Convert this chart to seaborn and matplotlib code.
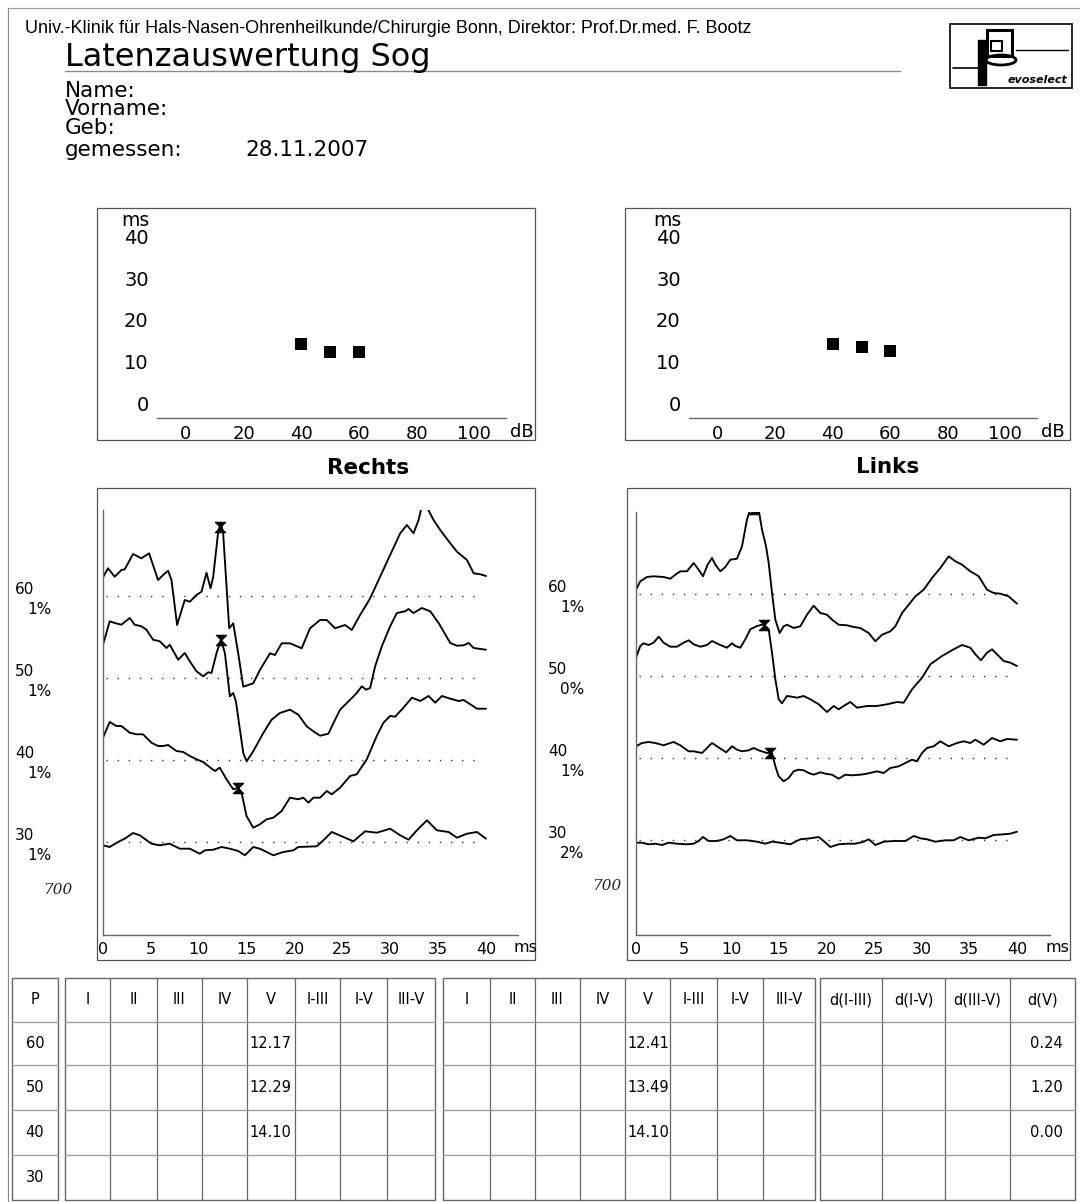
import numpy as np
import matplotlib
matplotlib.use("Agg")
import matplotlib.pyplot as plt
import seaborn as sns
from matplotlib.path import Path
from matplotlib.patches import Rectangle, Ellipse
from matplotlib import font_manager

# ---------------- data ----------------
header_text = "Univ.-Klinik für Hals-Nasen-Ohrenheilkunde/Chirurgie Bonn, Direktor: Prof.Dr.med. F. Bootz"
title_text = "Latenzauswertung Sog"
field_labels = ["Name:", "Vorname:", "Geb:", "gemessen:"]
measured_date = "28.11.2007"
side_titles = ["Rechts", "Links"]

levels = [60, 50, 40, 30]                 # stimulus levels (dB) of the four traces
levels_db = [60, 50, 40]                  # levels with a detected wave V
lat_v_rechts = [12.17, 12.29, 14.10]      # wave V latency, right ear (ms)
lat_v_links = [12.41, 13.49, 14.10]       # wave V latency, left ear (ms)
d_v = [0.24, 1.20, 0.00]                  # latency difference V
artifacts_rechts = ["1%", "1%", "1%", "1%"]
artifacts_links = ["1%", "0%", "1%", "2%"]
handwritten = "700"

db_ticks = [0, 20, 40, 60, 80, 100]
ms_ticks = [0, 10, 20, 30, 40]
wave_ticks = [0, 5, 10, 15, 20, 25, 30, 35, 40]

table_first_col = "P"
table_side_cols = ["I", "II", "III", "IV", "V", "I-III", "I-V", "III-V"]
table_diff_cols = ["d(I-III)", "d(I-V)", "d(III-V)", "d(V)"]

# --- waveforms, right ear (Rechts): time (ms) / amplitude (display units) ---
r60_t = [0.0, 0.52, 1.22, 1.92, 2.27, 3.14, 4.01, 4.81, 5.75, 6.28, 6.80, 7.15, 7.74, 8.54, 9.07, 9.76,
         10.29, 10.81, 11.23, 11.51, 12.03, 12.31, 12.55, 13.18, 13.60, 14.12, 14.65, 15.69, 16.39, 17.44,
         17.96, 18.66, 19.53, 20.75, 21.62, 22.67, 23.37, 24.24, 25.28, 25.98, 26.85, 27.90, 28.94, 29.99,
         31.04, 31.74, 32.43, 32.96, 33.23, 33.60, 33.93, 34.52, 35.22, 36.27, 36.97, 38.01, 38.71, 39.41, 40.0]
r60_a = [18.7, 27.7, 19.3, 26.0, 26.7, 42.0, 37.7, 42.7, 16.0, 21.0, 25.3, 16.0, -29.0, -4.0, -5.7, 1.0,
         4.3, 23.3, 7.7, 19.3, 64.3, 73.3, 62.7, -32.3, -27.3, -57.3, -90.7, -87.3, -74.0, -57.3,
         -59.0, -47.3, -47.3, -52.3, -32.3, -24.0, -24.0, -32.3, -29.0, -34.0, -19.0, -2.3, 19.3, 41.0,
         62.7, 71.0, 62.7, 76.0, 87.0, 98.0, 87.0, 76.0, 66.0, 52.7, 44.3, 36.0, 22.7, 21.7, 20.0]
r50_t = [0.0, 0.70, 1.22, 1.92, 2.79, 3.31, 4.01, 4.53, 5.23, 5.93, 6.63, 6.97, 7.85, 8.54, 9.07, 9.76,
         10.46, 10.99, 11.33, 11.86, 12.31, 12.73, 13.25, 13.60, 13.88, 14.30, 14.65, 15.00, 15.69, 16.74,
         17.61, 18.48, 19.53, 20.40, 21.27, 21.97, 22.67, 23.54, 24.24, 24.76, 25.81, 26.50, 27.03, 27.48,
         27.90, 28.42, 29.12, 29.99, 30.69, 31.56, 31.91, 32.43, 33.30, 34.18, 35.05, 36.27, 36.97, 37.66,
         38.19, 38.71, 40.0]
r50_a = [33.3, 56.7, 55.0, 53.3, 60.0, 53.3, 51.7, 48.3, 38.3, 36.7, 30.0, 33.3, 18.3, 25.0, 16.7, 6.7,
         1.7, 5.7, 5.0, 25.0, 38.3, 25.0, -18.3, -15.0, -23.3, -51.7, -75.0, -83.3, -73.3, -55.0,
         -41.7, -35.0, -31.7, -36.7, -48.3, -53.3, -57.7, -55.7, -41.7, -31.7, -21.7, -15.0, -8.3, -11.7,
         -10.0, 11.7, 31.7, 51.7, 65.0, 66.7, 69.0, 65.0, 70.0, 66.7, 55.0, 35.0, 32.3, 32.7,
         35.0, 30.0, 28.3]
r40_t = [0.0, 0.70, 1.40, 1.92, 2.79, 3.49, 4.18, 5.06, 5.75, 6.28, 6.80, 7.67, 8.37, 9.07, 9.76, 10.46,
         10.99, 11.68, 12.20, 12.90, 13.60, 14.12, 14.47, 14.99, 15.69, 16.39, 17.09, 17.79, 18.66, 19.53,
         20.40, 20.92, 21.45, 21.97, 22.67, 23.37, 23.89, 24.76, 25.81, 26.50, 27.55, 28.59, 29.29, 29.99,
         30.51, 31.38, 32.26, 33.13, 34.00, 34.70, 35.40, 36.27, 37.14, 37.66, 38.36, 39.06, 40.0]
r40_a = [22.3, 38.0, 34.0, 34.0, 27.3, 25.7, 25.7, 17.3, 14.0, 14.0, 15.0, 9.0, 8.0, 4.0, 0.7, -2.0,
         -6.0, -11.0, -7.7, -19.3, -29.3, -27.7, -32.7, -56.0, -67.7, -64.3, -59.3, -57.7, -51.0, -37.7,
         -39.3, -37.7, -42.7, -37.7, -37.7, -31.0, -34.3, -27.7, -16.0, -14.3, 0.7, 24.0, 37.3, 44.0,
         43.3, 52.3, 62.3, 59.0, 64.0, 57.3, 64.0, 61.3, 59.0, 60.0, 55.7, 51.3, 51.3]
r30_t = [0.0, 0.70, 1.57, 2.27, 3.14, 3.84, 5.06, 5.93, 6.97, 8.02, 9.07, 10.11, 10.64, 11.51, 12.38, 13.25,
         14.12, 14.82, 15.69, 16.39, 17.79, 18.83, 19.88, 20.40, 22.32, 23.02, 23.89, 25.11, 26.15, 27.38,
         28.59, 29.99, 31.04, 31.91, 32.78, 33.83, 34.87, 36.09, 36.97, 38.01, 39.06, 40.0]
r30_a = [-3.3, -5.0, 0.0, 3.3, 9.0, 6.7, -1.7, -3.3, -1.7, -6.7, -6.7, -11.7, -8.3, -7.7, -5.0, -6.7,
         -9.0, -13.3, -5.0, -6.7, -13.3, -10.0, -8.3, -5.0, -4.3, 1.7, 10.0, 5.0, 0.7, 10.7,
         9.3, 13.3, 6.7, 2.3, 11.7, 21.7, 11.7, 10.0, 4.3, 8.3, 10.0, 3.3]

# --- waveforms, left ear (Links) ---
l60_t = [0.0, 0.45, 1.15, 1.85, 2.90, 3.60, 4.13, 4.65, 5.35, 6.05, 6.58, 7.03, 7.52, 7.98, 8.33, 8.85,
         9.38, 9.90, 10.60, 11.13, 11.65, 12.00, 12.53, 12.88, 13.23, 13.65, 13.93, 14.28, 14.63, 15.08,
         15.50, 15.85, 16.55, 17.25, 17.95, 18.65, 19.35, 20.05, 20.58, 21.28, 22.15, 22.85, 23.55, 24.43,
         25.13, 25.83, 26.70, 27.23, 27.93, 28.63, 29.33, 30.20, 31.08, 31.95, 32.83, 33.53, 34.23, 35.10,
         35.98, 36.85, 37.55, 38.25, 39.12, 40.0]
l60_a = [4.3, 12.7, 17.0, 17.7, 17.0, 15.3, 19.3, 22.7, 22.7, 31.0, 24.3, 17.7, 29.3, 36.0, 29.3, 22.7,
         27.0, 34.3, 35.3, 47.7, 74.3, 85.0, 85.0, 84.0, 64.3, 47.7, 31.0, 1.0, -25.7, -39.0,
         -32.3, -30.7, -34.0, -32.3, -20.7, -11.7, -19.0, -20.7, -25.7, -30.7, -31.3, -33.0, -34.0, -39.0,
         -47.3, -40.7, -37.3, -32.3, -19.0, -10.7, -2.3, 4.3, 16.0, 26.0, 37.7, 32.7, 29.3, 22.7,
         17.7, 4.3, 1.0, 0.3, -2.3, -9.7]
l50_t = [0.0, 0.45, 0.80, 1.33, 1.85, 2.38, 2.90, 3.60, 4.30, 5.00, 5.53, 6.05, 6.75, 7.45, 7.98, 8.85,
         9.55, 10.08, 10.43, 10.95, 11.48, 12.00, 12.71, 13.40, 13.93, 14.28, 14.63, 14.98, 15.33, 15.85,
         16.38, 16.90, 17.60, 18.30, 19.18, 20.05, 20.75, 21.28, 21.80, 22.50, 23.20, 24.25, 25.30, 26.35,
         27.40, 28.10, 28.98, 30.03, 30.90, 32.13, 33.35, 34.23, 35.10, 35.63, 36.22, 36.85, 37.38, 37.90,
         38.60, 39.30, 40.0]
l50_a = [18.3, 30.0, 32.7, 31.0, 33.3, 39.3, 33.3, 29.3, 29.3, 33.3, 35.7, 31.7, 29.3, 31.0, 35.0, 31.0,
         28.3, 32.7, 30.0, 28.3, 36.7, 46.7, 50.0, 51.7, 46.7, 23.3, -3.3, -23.3, -27.3, -20.0,
         -20.7, -21.7, -20.0, -23.3, -28.3, -36.0, -30.0, -33.3, -30.0, -26.0, -31.7, -30.0, -30.0, -28.3,
         -26.0, -26.7, -13.3, -1.7, 11.7, 20.0, 26.7, 31.0, 28.3, 21.7, 15.7, 23.3, 26.7, 21.7,
         15.0, 13.3, 10.0]
l40_t = [0.0, 0.63, 1.33, 2.03, 2.90, 3.60, 3.95, 4.65, 5.53, 6.05, 6.93, 7.63, 7.98, 8.50, 9.03, 9.48,
         10.08, 10.60, 11.13, 11.83, 12.35, 12.88, 13.75, 14.28, 14.63, 14.98, 15.50, 16.03, 16.55, 17.08,
         17.60, 18.13, 18.65, 19.35, 19.88, 20.58, 21.28, 21.98, 22.68, 23.55, 24.25, 25.30, 26.00, 26.70,
         27.58, 28.28, 28.98, 29.50, 30.03, 30.55, 31.25, 31.95, 32.83, 33.70, 34.40, 35.10, 35.63, 36.50,
         37.38, 38.25, 38.95, 40.0]
l40_a = [11.7, 15.0, 16.0, 15.0, 12.7, 15.0, 16.0, 12.7, 6.7, 6.7, 5.0, 11.7, 15.0, 11.7, 8.3, 5.7,
         11.7, 8.3, 6.7, 7.7, 10.0, 7.7, 5.0, 5.0, -8.3, -18.3, -23.3, -20.0, -13.3, -11.7,
         -12.3, -15.0, -16.7, -14.3, -15.7, -16.7, -20.7, -16.7, -17.3, -16.7, -15.7, -13.3, -15.0, -10.0,
         -8.3, -5.0, -1.7, -3.3, 5.0, 10.0, 11.7, 16.7, 11.7, 15.0, 16.7, 15.0, 18.3, 13.3,
         20.0, 16.7, 19.0, 18.3]
l30_t = [0.0, 0.63, 1.33, 2.03, 2.73, 3.43, 4.30, 5.35, 6.05, 6.58, 7.03, 7.63, 8.50, 9.20, 9.90, 10.60,
         11.65, 12.71, 13.58, 14.28, 15.15, 16.20, 17.25, 18.30, 19.18, 19.70, 20.40, 21.28, 22.15, 23.03,
         23.90, 24.43, 25.13, 26.00, 27.05, 28.28, 29.15, 29.85, 30.55, 31.43, 32.48, 33.35, 34.05, 34.93,
         35.98, 36.68, 37.55, 38.60, 39.30, 40.0]
l30_a = [-2.7, -2.7, -4.3, -3.7, -5.0, -2.7, -3.7, -4.3, -3.7, -1.0, 3.0, -1.0, -1.0, 0.7, 4.0, -0.3,
         -0.3, -1.7, -3.7, -1.7, -2.7, -4.3, 0.7, 1.7, 3.0, -1.0, -7.0, -4.3, -3.7, -3.7,
         -1.7, 0.7, -5.0, -1.7, -1.0, -1.0, 4.0, 1.7, 0.7, -1.7, -0.3, -0.3, 3.0, -0.3,
         2.3, 1.7, 5.0, 5.7, 6.3, 8.3]

# ---------------- style ----------------
sns.set_theme(style="white")
plt.rcParams["font.family"] = ["DejaVu Sans"]
plt.rcParams["axes.facecolor"] = "white"
for key in ["text.color", "axes.labelcolor", "xtick.color", "ytick.color",
            "xtick.labelcolor", "ytick.labelcolor"]:
    plt.rcParams[key] = "black"

_names = {f.name for f in font_manager.fontManager.ttflist}
NARROW = "Liberation Sans Narrow" if "Liberation Sans Narrow" in _names else (
    "DejaVu Sans Condensed" if "DejaVu Sans Condensed" in _names else "Liberation Sans")

W, H = 1080, 1202
fig = plt.figure(figsize=(W / 100, H / 100), dpi=100)
fig.patch.set_facecolor("white")

bg = fig.add_axes([0, 0, 1, 1])
bg.set_xlim(0, W)
bg.set_ylim(H, 0)
bg.axis("off")

FRAME = "#555555"


def px_axes(x0, y0, x1, y1):
    ax = fig.add_axes([x0 / W, 1 - y1 / H, (x1 - x0) / W, (y1 - y0) / H])
    ax.patch.set_alpha(0)
    return ax


def frame(x0, y0, x1, y1, color=FRAME, lw=0.9):
    bg.add_patch(Rectangle((x0, y0), x1 - x0, y1 - y0, fill=False, ec=color, lw=lw))


# page border (scan edges)
bg.plot([8, W], [8, 8], color="#9a9a9a", lw=0.8)
bg.plot([8, 8], [8, H], color="#8a8a8a", lw=0.8)

# ---------------- header ----------------
hdr = bg.text(25, 33, header_text, fontsize=14, family=[NARROW, "DejaVu Sans"], va="baseline", color="black")
bg.text(65, 66, title_text, fontsize=23, va="baseline", color="black")
bg.plot([65, 900], [71, 71], color="#8a8a8a", lw=1.0)
for i, lab in enumerate(field_labels):
    bg.text(65, [97, 115, 134, 156][i], lab, fontsize=15.5, va="baseline", color="black")
bg.text(245, 156, measured_date, fontsize=15.5, va="baseline", color="black")

# logo
bg.add_patch(Rectangle((950, 24), 122, 64, fill=False, ec="black", lw=1.2))
bg.plot([953, 979], [68, 68], color="black", lw=1.2)
bg.add_patch(Rectangle((978, 40), 8, 45, fc="black", ec="black"))
bg.add_patch(Rectangle((987, 30), 25, 26, fill=False, ec="black", lw=2.2))
bg.add_patch(Rectangle((991, 41), 11, 10, fill=False, ec="black", lw=1.5))
bg.add_patch(Ellipse((1001, 60), 30, 10, fill=False, ec="black", lw=2.0))
bg.plot([1016, 1068], [50, 50], color="black", lw=1.0)
bg.text(1067, 83, "evoselect", fontsize=8, style="italic", weight="bold", ha="right", va="baseline")

# ---------------- latency-intensity plots ----------------
SCAT = {"Rechts": (97, 535, 157, 506, lat_v_rechts), "Links": (625, 1070, 689, 1037, lat_v_links)}
for name, (fx0, fx1, ax0, ax1, lat) in SCAT.items():
    frame(fx0, 208, fx1, 440)
    ax = px_axes(ax0, 216, ax1, 418)
    sns.scatterplot(x=levels_db, y=lat, marker="s", s=70, color="black", edgecolor="black",
                    linewidth=0, ax=ax, legend=False)
    ax.set_xlim(-10, 111)
    ax.set_ylim(-3.6, 45)
    ax.set_xticks(db_ticks)
    ax.set_yticks(ms_ticks)
    for s in ["top", "right", "left"]:
        ax.spines[s].set_visible(False)
    ax.spines["bottom"].set_color("#666666")
    ax.spines["bottom"].set_linewidth(1.0)
    ax.tick_params(axis="y", length=5, width=0.8, color="#777777", pad=1, labelsize=14)
    ax.tick_params(axis="x", length=4, width=0.8, color="#777777", pad=1, labelsize=13)
    ax.set_xlabel("")
    ax.set_ylabel("")
    bg.text(ax0 - 22, 221, "ms", fontsize=13.5, ha="center", va="center")
    bg.text(ax1 + 16, 432, "dB", fontsize=13, ha="center", va="center")

bg.text(368, 474, side_titles[0], fontsize=15.5, weight="bold", ha="center", va="baseline")
bg.text(888, 473, side_titles[1], fontsize=15.5, weight="bold", ha="center", va="baseline")

# ---------------- waveform panels ----------------
hour = Path([(-1, 1), (1, 1), (0, 0), (-1, 1), (-1, -1), (1, -1), (0, 0), (-1, -1)],
            [Path.MOVETO, Path.LINETO, Path.LINETO, Path.CLOSEPOLY,
             Path.MOVETO, Path.LINETO, Path.LINETO, Path.CLOSEPOLY])

SPACING = 82  # vertical distance between stacked traces (display units)
PANELS = [
    dict(frame=(97, 488, 535, 960), x0=103, x40=486, xr=518, base60=596, top=86,
         traces=[(r60_t, r60_a), (r50_t, r50_a), (r40_t, r40_a), (r30_t, r30_a)],
         lat=lat_v_rechts, art=artifacts_rechts, lab_x=15, hand=(58, 890)),
    dict(frame=(627, 488, 1070, 960), x0=636, x40=1017, xr=1050, base60=594, top=82,
         traces=[(l60_t, l60_a), (l50_t, l50_a), (l40_t, l40_a), (l30_t, l30_a)],
         lat=lat_v_links, art=artifacts_links, lab_x=548, hand=(607, 886)),
]
AXIS_Y = 935

for P in PANELS:
    frame(*P["frame"])
    pxms = (P["x40"] - P["x0"]) / 40.0
    bottom = -(AXIS_Y - P["base60"])
    ax = px_axes(P["x0"], P["base60"] - P["top"], P["xr"], AXIS_Y)
    ax.set_xlim(0, (P["xr"] - P["x0"]) / pxms)
    ax.set_ylim(bottom, P["top"])
    for k, (t, a) in enumerate(P["traces"]):
        off = -SPACING * k
        ax.hlines(off, 0.35, 39.2, colors="#333333", linestyles=(0, (1, 7)), lw=1.0)
        sns.lineplot(x=t, y=np.asarray(a) + off, ax=ax, color="black", lw=1.35,
                     sort=False, estimator=None, legend=False)
        # level and artifact-rate labels to the left of the panel
        by = P["base60"] + SPACING * k
        bg.text(P["lab_x"], by - 7, str(levels[k]), fontsize=11, va="center", ha="left")
        bg.text(P["lab_x"] + 12, by + 13, P["art"][k], fontsize=11, va="center", ha="left")
    # wave V markers on the traces
    for k, lv in enumerate(P["lat"]):
        t, a = P["traces"][k]
        yv = np.interp(lv, t, a) - SPACING * k
        ax.plot([lv], [yv], marker=hour, ms=7.5, color="black", mec="black", mew=0.8, ls="none")
    ax.set_xticks(wave_ticks)
    ax.set_yticks([])
    for s in ["top", "right"]:
        ax.spines[s].set_visible(False)
    for s in ["left", "bottom"]:
        ax.spines[s].set_color("#666666")
        ax.spines[s].set_linewidth(1.0)
    ax.tick_params(axis="x", length=0, pad=5, labelsize=11.5)
    ax.set_xlabel("")
    ax.set_ylabel("")
    bg.text(P["xr"] + 7, 947, "ms", fontsize=11.5, ha="center", va="center")
    bg.text(P["hand"][0], P["hand"][1], handwritten, fontsize=11, family="DejaVu Serif",
            style="italic", ha="center", va="center", color="#222222")

# ---------------- table ----------------
row_y = [978, 1022, 1065, 1110, 1155, 1200]
blocks = [
    [12, 58],
    [65, 110, 157, 202, 247, 295, 340, 387, 435],
    [443, 490, 535, 580, 625, 670, 717, 763, 815],
    [820, 882, 945, 1010, 1075],
]
for xs in blocks:
    frame(xs[0], row_y[0], xs[-1], row_y[-1], color="#666666", lw=1.0)
    for x in xs[1:-1]:
        bg.plot([x, x], [row_y[0], row_y[-1]], color="#666666", lw=0.9)
    for y in row_y[1:-1]:
        bg.plot([xs[0], xs[-1]], [y, y], color="#9a9a9a", lw=0.9)

TFS = 10.5
hy = (row_y[0] + row_y[1]) / 2
row_c = [(row_y[i] + row_y[i + 1]) / 2 for i in range(1, 5)]
col_c = lambda xs, i: (xs[i] + xs[i + 1]) / 2
bg.text(col_c(blocks[0], 0), hy, table_first_col, fontsize=TFS, ha="center", va="center")
for i, c in enumerate(table_side_cols):
    bg.text(col_c(blocks[1], i), hy, c, fontsize=TFS, ha="center", va="center")
    bg.text(col_c(blocks[2], i), hy, c, fontsize=TFS, ha="center", va="center")
for i, c in enumerate(table_diff_cols):
    bg.text(col_c(blocks[3], i), hy, c, fontsize=TFS, ha="center", va="center")
for r, lev in enumerate(levels):
    bg.text(col_c(blocks[0], 0), row_c[r], str(lev), fontsize=TFS, ha="center", va="center")
vcol = table_side_cols.index("V")
for r in range(len(levels_db)):
    bg.text(blocks[1][vcol] + 2, row_c[r], f"{lat_v_rechts[r]:.2f}", fontsize=TFS, ha="left", va="center")
    bg.text(blocks[2][vcol] + 2, row_c[r], f"{lat_v_links[r]:.2f}", fontsize=TFS, ha="left", va="center")
    bg.text(blocks[3][-1] - 12, row_c[r], f"{d_v[r]:.2f}", fontsize=TFS, ha="right", va="center")

# fit the narrow header line to its width on the page
fig.canvas.draw()
w = hdr.get_window_extent().width
hdr.set_fontsize(14 * 730 / w)

fig.savefig("out.png", dpi=100, facecolor="white")
